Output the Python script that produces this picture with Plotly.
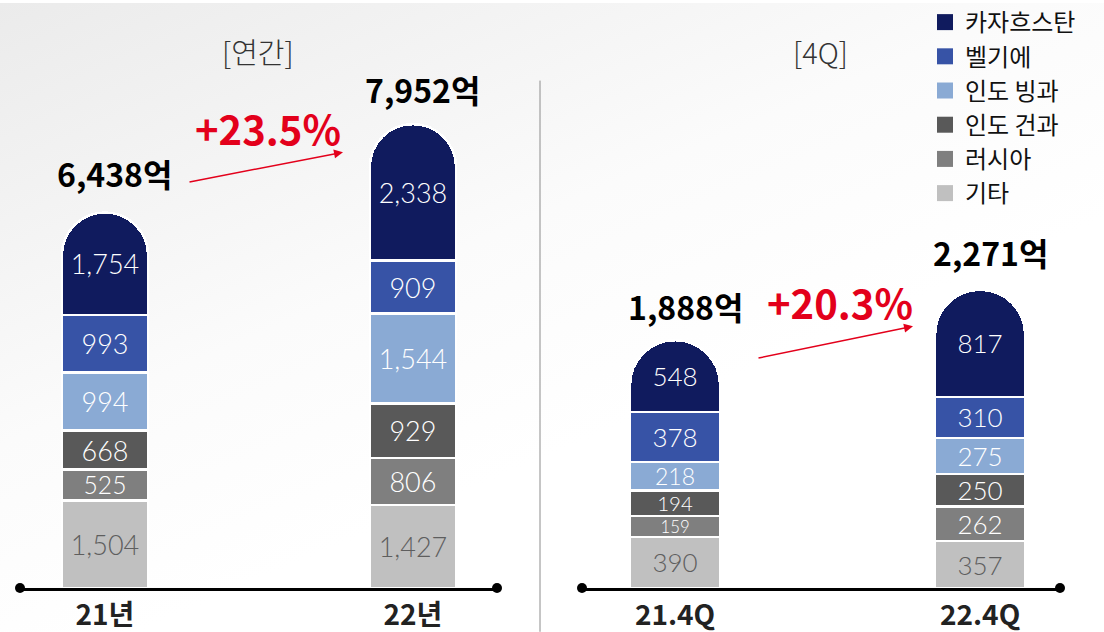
import base64
import plotly.graph_objects as go

# ---------------- data ----------------
series_names = ["기타", "러시아", "인도 건과", "인도 빙과", "벨기에", "카자흐스탄"]
series_colors = ["#c0c0c0", "#7f7f7f", "#595959", "#8aaad4", "#3753a6", "#101b5e"]
series_text_colors = ["#5e5e5e", "white", "white", "white", "white", "white"]

annual_categories = ["21년", "22년"]
annual_other = [1504, 1427]
annual_russia = [525, 806]
annual_india_dry = [668, 929]
annual_india_ice = [994, 1544]
annual_belgium = [993, 909]
annual_kazakhstan = [1754, 2338]
annual_totals = [6438, 7952]

quarter_categories = ["21.4Q", "22.4Q"]
quarter_other = [390, 357]
quarter_russia = [159, 262]
quarter_india_dry = [194, 250]
quarter_india_ice = [218, 275]
quarter_belgium = [378, 310]
quarter_kazakhstan = [548, 817]
quarter_totals = [1888, 2271]

panel_titles = ["[연간]", "[4Q]"]

annual_series = [annual_other, annual_russia, annual_india_dry,
                 annual_india_ice, annual_belgium, annual_kazakhstan]
quarter_series = [quarter_other, quarter_russia, quarter_india_dry,
                  quarter_india_ice, quarter_belgium, quarter_kazakhstan]

# ---------------- figure ----------------
W, H = 1104, 632
MT, MB = 0, 44
PH = H - MT - MB  # plot height in px
ANNUAL_YMAX = 10030
QUARTER_YMAX = 4455


def py(pixel_y):
    """pixel y (from top) -> paper y"""
    return (H - MB - pixel_y) / PH


def px(pixel_x):
    return pixel_x / W


def label_sizes(values, ymax, cap):
    # shrink a segment label only when its segment is too thin for it
    return [min(cap, 0.8 * v * PH / ymax) for v in values]


fig = go.Figure()

seg_family = "Lato, Roboto, sans-serif"

for i, name in enumerate(series_names):
    fig.add_trace(go.Bar(
        x=annual_categories, y=annual_series[i], name=name,
        marker=dict(color=series_colors[i], line=dict(color="white", width=2.5)),
        texttemplate="%{y:,}", textposition="inside", insidetextanchor="middle",
        textangle=0, constraintext="none",
        textfont=dict(color=series_text_colors[i], family=seg_family, weight=300,
                      size=label_sizes(annual_series[i], ANNUAL_YMAX, 27)),
        width=0.28, legendgroup=name, showlegend=False,
        xaxis="x", yaxis="y", hoverinfo="skip",
    ))
for i, name in enumerate(series_names):
    fig.add_trace(go.Bar(
        x=quarter_categories, y=quarter_series[i], name=name,
        marker=dict(color=series_colors[i], line=dict(color="white", width=2.5)),
        texttemplate="%{y:,}", textposition="inside", insidetextanchor="middle",
        textangle=0, constraintext="none",
        textfont=dict(color=series_text_colors[i], family=seg_family, weight=300,
                      size=label_sizes(quarter_series[i], QUARTER_YMAX, 26)),
        width=0.295, legendgroup=name, showlegend=False,
        xaxis="x2", yaxis="y2", hoverinfo="skip",
    ))
# legend keys (square swatches), top entry = 카자흐스탄
for i in reversed(range(len(series_names))):
    fig.add_trace(go.Scatter(
        x=[None], y=[None], mode="markers", name=series_names[i],
        marker=dict(symbol="square", size=16, color=series_colors[i]),
        legendgroup=series_names[i], showlegend=True, xaxis="x", yaxis="y",
    ))

tick_font = dict(family="Noto Sans CJK KR, sans-serif", size=28, color="#222222", weight="bold")
axis_common = dict(showline=True, linewidth=3, linecolor="black", showgrid=False,
                   zeroline=False, ticks="", tickfont=tick_font, type="category",
                   fixedrange=True)

fig.update_layout(
    width=W, height=H,
    margin=dict(l=0, r=0, t=MT, b=MB, pad=0),
    barmode="stack", barcornerradius="50%",
    paper_bgcolor="white", plot_bgcolor="rgba(0,0,0,0)",
    xaxis=dict(domain=[px(20), px(497)], range=[-0.276, 1.273], anchor="y", **axis_common),
    yaxis=dict(domain=[0, 1], range=[0, ANNUAL_YMAX], visible=False, fixedrange=True),
    xaxis2=dict(domain=[px(582), px(1060)], range=[-0.305, 1.262], anchor="y2", **axis_common),
    yaxis2=dict(domain=[0, 1], range=[0, QUARTER_YMAX], visible=False, anchor="x2", fixedrange=True),
    legend=dict(x=px(925), y=py(-3), xanchor="left", yanchor="top",
                font=dict(family="Noto Sans CJK KR, sans-serif", size=24, color="#111111"),
                bgcolor="rgba(0,0,0,0)", itemclick=False, itemdoubleclick=False,
                tracegroupgap=0, traceorder="normal"),
    showlegend=True,
)

# background diagonal gradient
svg = (
    "<svg xmlns='http://www.w3.org/2000/svg' width='1104' height='632'>"
    "<defs><linearGradient id='g' x1='0' y1='0' x2='0.75' y2='1'>"
    "<stop offset='0' stop-color='#ebebeb'/>"
    "<stop offset='0.45' stop-color='#fbfbfb'/>"
    "<stop offset='0.7' stop-color='#ffffff'/>"
    "</linearGradient></defs>"
    "<rect width='1104' height='632' fill='url(#g)'/></svg>"
)
svg_uri = "data:image/svg+xml;base64," + base64.b64encode(svg.encode()).decode()
fig.add_layout_image(dict(source=svg_uri, xref="paper", yref="paper",
                          x=0, y=py(0), sizex=1, sizey=H / PH,
                          sizing="stretch", xanchor="left", yanchor="top",
                          layer="below"))

# axis end dots
for xpix in (20, 497, 582, 1060):
    fig.add_shape(type="circle", xref="paper", yref="paper",
                  xsizemode="pixel", ysizemode="pixel",
                  xanchor=px(xpix), yanchor=py(588), x0=-5, x1=5, y0=-5, y1=5,
                  fillcolor="black", line=dict(color="black", width=0))

# separator
fig.add_shape(type="line", xref="paper", yref="paper",
              x0=px(540), x1=px(540), y0=py(632), y1=py(78),
              line=dict(color="#8c8c8c", width=1))

# panel titles
title_font = dict(family="Noto Sans CJK KR, sans-serif", size=29, color="#333333", weight=300)
for t, (tx, ty) in zip(panel_titles, ((258, 48), (820, 48))):
    fig.add_annotation(text=t, xref="paper", yref="paper", x=px(tx), y=py(ty),
                       xanchor="center", yanchor="middle", showarrow=False, font=title_font)

# totals
total_font = dict(family="Noto Sans CJK KR, sans-serif", size=32, color="black", weight="bold")
for cats, totals, xr, yr, shifts in (
        (annual_categories, annual_totals, "x", "y", (15, 10)),
        (quarter_categories, quarter_totals, "x2", "y2", (9, 13))):
    for c, t, ys in zip(cats, totals, shifts):
        fig.add_annotation(text=f"{t:,}억", x=c, y=t, xref=xr, yref=yr,
                           showarrow=False, xanchor="center", yanchor="bottom",
                           xshift=10, yshift=ys, font=total_font)

# growth labels and arrows
red = "#e3001b"
growth_font = dict(family="Noto Sans CJK KR, sans-serif", size=40, color=red, weight="bold")
annual_growth = (annual_totals[1] / annual_totals[0] - 1) * 100
quarter_growth = (quarter_totals[1] / quarter_totals[0] - 1) * 100
for g, (tx, ty), (x0, y0, x1, y1) in (
        (annual_growth, (268, 126), (188, 180, 343, 150)),
        (quarter_growth, (840, 301), (757, 357, 913, 325))):
    fig.add_annotation(text=f"+{g:.1f}%", xref="paper", yref="paper",
                       x=px(tx), y=py(ty), xanchor="center", yanchor="middle",
                       showarrow=False, font=growth_font)
    fig.add_annotation(text="", xref="paper", yref="paper",
                       x=px(x1), y=py(y1), ax=x0 - x1, ay=y0 - y1,
                       showarrow=True, arrowhead=2, arrowsize=1.2, arrowwidth=1.5,
                       arrowcolor=red, standoff=0)

fig.write_html("out.html", config={"displayModeBar": False},
               post_script="document.body.style.margin='0px';")
